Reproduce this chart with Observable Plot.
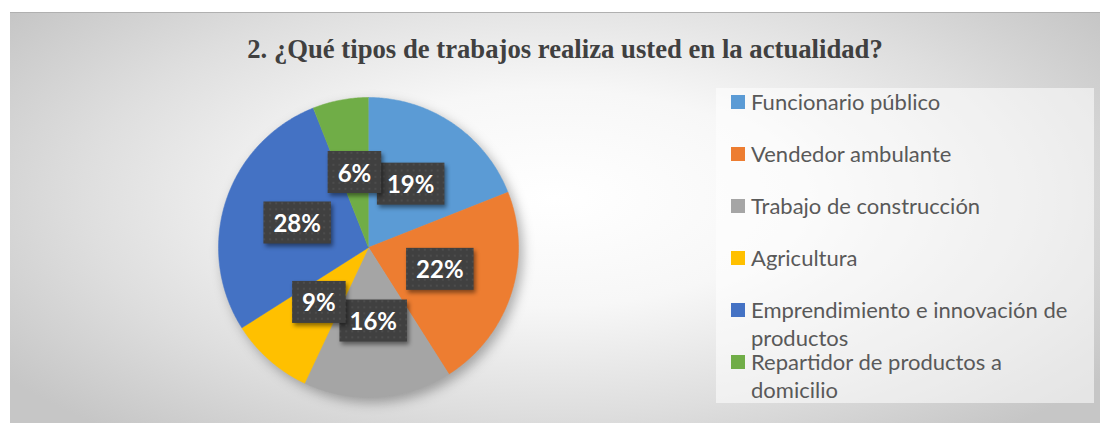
<!DOCTYPE html>
<html>
<head>
<meta charset="utf-8">
<script src="https://cdn.jsdelivr.net/npm/d3@7"></script>
<script src="https://cdn.jsdelivr.net/npm/@observablehq/plot@0.6"></script>
<style>
  html, body { margin: 0; padding: 0; background: #fff; }
  #wrap { position: relative; width: 1100px; height: 423px; overflow: hidden; }
  #frame { position: absolute; left: 10px; top: 12px; width: 1090px; height: 411px;
    border-top: 1px solid #b0b0b0;
    background: radial-gradient(ellipse 62% 75% at 50% 45%, #ffffff 0%, #f7f7f7 35%, #dedede 70%, #c6c6c6 100%); }
  #title { position: absolute; top: 34px; left: 215px; width: 700px; text-align: center;
    font-family: "Liberation Serif", "Times New Roman", serif; font-weight: bold; font-size: 26.7px; color: #404040; white-space: nowrap; }
  #chart { position: absolute; left: 0; top: 0; }
  #legend { position: absolute; left: 716px; top: 88px; width: 378px; height: 315px;
    background: rgba(255,255,255,0.55); font-family: Lato, "Open Sans", sans-serif; font-size: 22px; color: #595959; }
  .item { position: absolute; left: 15px; width: 355px; height: 52px; }
  .sw { position: absolute; left: 0; top: 7px; width: 14px; height: 14px; }
  .lab { position: absolute; left: 20px; top: 0; width: 330px; line-height: 28px; }
  g.slices { filter: drop-shadow(4px 5px 6px rgba(0,0,0,0.3)); }
  rect.lbox { filter: drop-shadow(2px 3px 2px rgba(0,0,0,0.45)); }
</style>
</head>
<body>
<div id="wrap">
  <div id="frame"></div>
  <div id="title"></div>
  <div id="chart"></div>
  <div id="legend"></div>
</div>
<script>
const title = "2. ¿Qué tipos de trabajos realiza usted en la actualidad?";
const categories = ["Funcionario público", "Vendedor ambulante", "Trabajo de construcción", "Agricultura", "Emprendimiento e innovación de productos", "Repartidor de productos a domicilio"];
const values = [19, 22, 16, 9, 28, 6];
const colors = ["#5B9BD5", "#ED7D31", "#A5A5A5", "#FFC000", "#4472C4", "#70AD47"];

document.getElementById("title").textContent = title;

// Build slice polygons (unit circle) and label anchors from the data
const total = d3.sum(values);
let acc = 0;
const slicePts = [];
const labels = [];
categories.forEach((c, i) => {
  const a0 = acc / total * 2 * Math.PI;
  acc += values[i];
  const a1 = acc / total * 2 * Math.PI;
  const n = Math.max(4, Math.ceil((a1 - a0) / 0.01));
  slicePts.push({cat: c, x: 0, y: 0});
  for (let k = 0; k <= n; k++) {
    const a = a0 + (a1 - a0) * k / n;
    slicePts.push({cat: c, x: Math.sin(a), y: Math.cos(a)});
  }
  const am = (a0 + a1) / 2;
  labels.push({cat: c, x: 0.5 * Math.sin(am), y: 0.5 * Math.cos(am), text: Math.round(values[i] / total * 100) + "%"});
});

const plot = Plot.plot({
  width: 1100,
  height: 423,
  marginTop: 0, marginBottom: 0, marginLeft: 0, marginRight: 0,
  style: {background: "transparent", overflow: "visible"},
  x: {domain: [-1, 1], range: [218, 518], axis: null},
  y: {domain: [-1, 1], range: [397, 97], axis: null},
  color: {domain: categories, range: colors},
  marks: [
    Plot.line(slicePts, {x: "x", y: "y", z: "cat", fill: "cat", stroke: "cat", strokeWidth: 0.5}),
    Plot.text(labels, {x: "x", y: "y", text: "text", fill: "white", fontSize: 24, fontWeight: "bold", fontFamily: "Lato, 'Open Sans', sans-serif"})
  ]
});
document.getElementById("chart").appendChild(plot);

const ns = "http://www.w3.org/2000/svg";
function el(name, attrs, parent) {
  const e = document.createElementNS(ns, name);
  for (const k in attrs) e.setAttribute(k, attrs[k]);
  if (parent) parent.appendChild(e);
  return e;
}
const defs = el("defs", {});
const pat = el("pattern", {id: "dots", width: 6, height: 6, patternUnits: "userSpaceOnUse"}, defs);
el("rect", {width: 6, height: 6, fill: "#404040"}, pat);
el("rect", {x: 2, y: 2, width: 2, height: 2, fill: "#4c4c4c"}, pat);
plot.insertBefore(defs, plot.firstChild);

const sliceG = plot.querySelector('g[aria-label="line"]');
if (sliceG) sliceG.classList.add("slices");
const labelG = plot.querySelector('g[aria-label="text"]');
if (labelG) {
  labelG.querySelectorAll("text").forEach(t => {
    const b = t.getBBox();
    const w = b.width + 20, h = 42;
    const cx = b.x + b.width / 2, cy = b.y + b.height / 2;
    const attrs = {x: cx - w / 2, y: cy - h / 2, width: w, height: h, class: "lbox"};
    const tr = t.getAttribute("transform");
    if (tr) attrs.transform = tr;
    const r = el("rect", attrs);
    r.style.fill = "url(#dots) #404040";
    t.parentNode.insertBefore(r, t);
  });
}

// legend
const leg = document.getElementById("legend");
categories.forEach((c, i) => {
  const it = document.createElement("div");
  it.className = "item";
  it.style.top = (i * 52) + "px";
  const sw = document.createElement("div");
  sw.className = "sw";
  sw.style.background = colors[i];
  const lb = document.createElement("div");
  lb.className = "lab";
  lb.textContent = c;
  it.appendChild(sw); it.appendChild(lb);
  leg.appendChild(it);
});
</script>
</body>
</html>
